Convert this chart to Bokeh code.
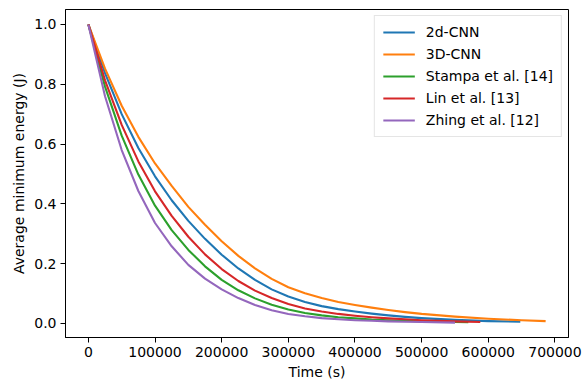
from bokeh.plotting import figure
from bokeh.models import Range1d, FixedTicker, NumeralTickFormatter, Legend, LegendItem
from bokeh.embed import file_html
from bokeh.resources import INLINE

# ---- data ----
series_names = ["2d-CNN", "3D-CNN", "Stampa et al. [14]", "Lin et al. [13]", "Zhing et al. [12]"]
series_colors = ["#1f77b4", "#ff7f0e", "#2ca02c", "#d62728", "#9467bd"]

t_2d = [0, 25000, 50000, 75000, 100000, 125000, 150000, 175000, 200000, 225000,
        250000, 275000, 300000, 325000, 350000, 375000, 400000, 425000, 450000, 475000,
        500000, 550000, 600000, 648000]
e_2d = [1.000, 0.837, 0.700, 0.587, 0.492, 0.412, 0.343, 0.283, 0.230, 0.184,
        0.146, 0.114, 0.090, 0.072, 0.058, 0.048, 0.040, 0.033, 0.027, 0.022,
        0.018, 0.012, 0.008, 0.006]

t_3d = [0, 25000, 50000, 75000, 100000, 125000, 150000, 175000, 200000, 225000,
        250000, 275000, 300000, 325000, 350000, 375000, 400000, 425000, 450000, 475000,
        500000, 550000, 600000, 650000, 686000]
e_3d = [1.000, 0.852, 0.728, 0.624, 0.535, 0.460, 0.390, 0.330, 0.275, 0.226,
        0.184, 0.149, 0.121, 0.101, 0.085, 0.072, 0.062, 0.053, 0.045, 0.038,
        0.032, 0.023, 0.016, 0.011, 0.008]

t_stampa = [0, 25000, 50000, 75000, 100000, 125000, 150000, 175000, 200000, 225000,
            250000, 275000, 300000, 325000, 350000, 375000, 400000, 425000, 450000, 475000,
            500000, 550000, 570000]
e_stampa = [1.000, 0.792, 0.628, 0.498, 0.394, 0.312, 0.246, 0.191, 0.146, 0.111,
            0.084, 0.063, 0.047, 0.035, 0.027, 0.021, 0.017, 0.013, 0.011, 0.009,
            0.007, 0.005, 0.004]

t_lin = [0, 25000, 50000, 75000, 100000, 125000, 150000, 175000, 200000, 225000,
         250000, 275000, 300000, 325000, 350000, 375000, 400000, 425000, 450000, 475000,
         500000, 550000, 588000]
e_lin = [1.000, 0.813, 0.664, 0.542, 0.442, 0.360, 0.290, 0.231, 0.182, 0.142,
         0.110, 0.085, 0.065, 0.050, 0.040, 0.032, 0.026, 0.021, 0.017, 0.014,
         0.011, 0.007, 0.005]

t_zhing = [0, 25000, 50000, 75000, 100000, 125000, 150000, 175000, 200000, 225000,
           250000, 275000, 300000, 325000, 350000, 375000, 400000, 425000, 450000, 475000,
           500000, 550000]
e_zhing = [1.000, 0.760, 0.580, 0.443, 0.336, 0.258, 0.196, 0.150, 0.114, 0.085,
           0.062, 0.044, 0.032, 0.024, 0.018, 0.014, 0.011, 0.009, 0.007, 0.006,
           0.005, 0.003]

x_ticks = [0, 100000, 200000, 300000, 400000, 500000, 600000, 700000]
y_ticks = [0.0, 0.2, 0.4, 0.6, 0.8, 1.0]

x_label = "Time (s)"
y_label = "Average minimum energy (J)"

# ---- figure ----
all_t = t_2d + t_3d + t_stampa + t_lin + t_zhing
all_e = e_2d + e_3d + e_stampa + e_lin + e_zhing
tmin, tmax = min(all_t), max(all_t)
emin, emax = min(all_e), max(all_e)
tpad = 0.05 * (tmax - tmin)
epad = 0.05 * (emax - emin)

FONT = "DejaVu Sans"
FS = "14px"

p = figure(width=584, height=386, output_backend="svg", toolbar_location=None,
           x_range=Range1d(tmin - tpad, tmax + tpad),
           y_range=Range1d(emin - epad, emax + epad),
           min_border_left=65, min_border_right=16, min_border_top=9, min_border_bottom=49,
           background_fill_color="white", border_fill_color="white")

p.xgrid.visible = False
p.ygrid.visible = False
p.outline_line_color = "black"
p.outline_line_width = 1
p.outline_line_alpha = 1

p.xaxis.ticker = FixedTicker(ticks=x_ticks)
p.yaxis.ticker = FixedTicker(ticks=y_ticks)
p.xaxis.formatter = NumeralTickFormatter(format="0")
p.yaxis.formatter = NumeralTickFormatter(format="0.0")
p.xaxis.axis_label = x_label
p.yaxis.axis_label = y_label

for ax in (p.xaxis, p.yaxis):
    ax.axis_line_color = "black"
    ax.major_tick_line_color = "black"
    ax.major_tick_line_width = 1
    ax.major_tick_out = 5
    ax.major_tick_in = 0
    ax.minor_tick_line_color = None
    ax.major_label_text_font = FONT
    ax.major_label_text_font_size = FS
    ax.major_label_text_color = "black"
    ax.axis_label_text_font = FONT
    ax.axis_label_text_font_size = FS
    ax.axis_label_text_font_style = "normal"
    ax.axis_label_text_color = "black"
    ax.major_label_standoff = 4
    ax.axis_label_standoff = 4

series = [(t_2d, e_2d), (t_3d, e_3d), (t_stampa, e_stampa), (t_lin, e_lin), (t_zhing, e_zhing)]
items = []
for (t, e), name, col in zip(series, series_names, series_colors):
    r = p.line(t, e, line_color=col, line_width=2.1, line_join="round")
    items.append(LegendItem(label=name, renderers=[r]))

legend = Legend(items=items, location="top_right")
legend.label_text_font = FONT
legend.label_text_font_size = FS
legend.label_text_color = "black"
legend.glyph_width = 32
legend.glyph_height = 16
legend.label_height = 16
legend.label_standoff = 11
legend.spacing = 6
legend.padding = 8
legend.margin = 6
legend.border_line_color = "#cccccc"
legend.border_line_width = 1
legend.background_fill_color = "white"
legend.background_fill_alpha = 0.8
p.add_layout(legend)

open("out.html", "w").write(file_html(p, INLINE))
